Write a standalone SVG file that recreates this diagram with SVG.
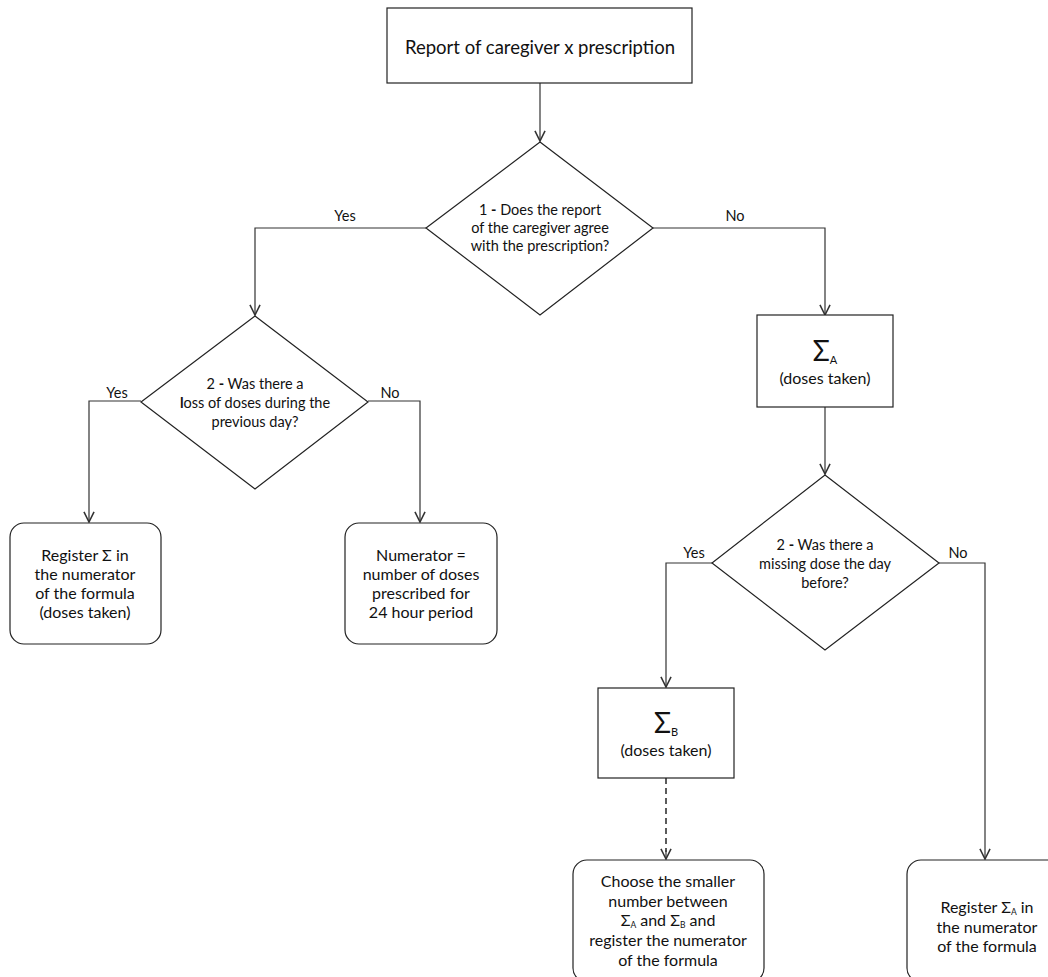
<svg xmlns="http://www.w3.org/2000/svg" width="1048" height="977" viewBox="0 0 1048 977">
<style>
.shape{fill:#fff;stroke:#222;stroke-width:1.2}
.conn{fill:none;stroke:#333;stroke-width:1.2}
.dash{stroke-dasharray:6 4;stroke-width:1.6}
text{font-family:Lato,"Noto Sans","Liberation Sans",sans-serif;fill:#111;text-anchor:middle}
.dt{font-size:14.5px}
.lb{font-size:14.5px}
.bt{font-size:16px}
.sig{font-size:28px}
.sub{font-size:11px}
.sm{font-size:8.5px}
</style>
<defs>
<marker id="arr" markerWidth="12" markerHeight="12" refX="9.5" refY="5" orient="auto" markerUnits="userSpaceOnUse" viewBox="0 0 10 10">
<path d="M1,0.8 L9.5,5 L1,9.2" fill="none" stroke="#333" stroke-width="1.3"/>
</marker>
</defs>
<rect width="1048" height="977" fill="#fff"/>
<g id="connectors">
<path class="conn" d="M540,83 V141" marker-end="url(#arr)"/>
<path class="conn" d="M426,228 H255 V315" marker-end="url(#arr)"/>
<path class="conn" d="M653,228 H825 V315" marker-end="url(#arr)"/>
<path class="conn" d="M141,401 H89 V522" marker-end="url(#arr)"/>
<path class="conn" d="M368,401 H420 V522" marker-end="url(#arr)"/>
<path class="conn" d="M825,407 V474" marker-end="url(#arr)"/>
<path class="conn" d="M712,563 H666 V687" marker-end="url(#arr)"/>
<path class="conn dash" d="M666,778 V852"/>
<path class="conn" d="M666,850 V859" marker-end="url(#arr)"/>
<path class="conn" d="M939,563 H985 V859" marker-end="url(#arr)"/>
<text class="lb" x="345" y="221">Yes</text>
<text class="lb" x="735" y="221">No</text>
<text class="lb" x="117" y="398">Yes</text>
<text class="lb" x="390" y="398">No</text>
<text class="lb" x="694" y="558">Yes</text>
<text class="lb" x="958" y="558">No</text>
</g>
<g id="start">
<rect class="shape" x="387" y="8" width="305" height="75"/>
<text x="540" y="54" style="font-size:18.5px">Report of caregiver x prescription</text>
</g>
<g id="decision1">
<polygon class="shape" points="540,142 653,228 540,315 426,228"/>
<text class="dt" x="540" y="215">1 <tspan font-weight="bold">-</tspan> Does the report</text>
<text class="dt" x="540" y="233">of the caregiver agree</text>
<text class="dt" x="540" y="251">with the prescription?</text>
</g>
<g id="decision2">
<polygon class="shape" points="255,316 368,402 255,489 141,402"/>
<text class="dt" x="255" y="389">2 <tspan font-weight="bold">-</tspan> Was there a</text>
<text class="dt" x="255" y="408"><tspan font-weight="bold">l</tspan>oss of doses during the</text>
<text class="dt" x="255" y="427">previous day?</text>
</g>
<g id="result1">
<rect class="shape" x="10" y="523" width="151" height="121" rx="14"/>
<text class="bt" x="85" y="561">Register Σ in</text>
<text class="bt" x="85" y="580">the numerator</text>
<text class="bt" x="85" y="599">of the formula</text>
<text class="bt" x="85" y="618">(doses taken)</text>
</g>
<g id="result2">
<rect class="shape" x="345" y="523" width="152" height="121" rx="14"/>
<text class="bt" x="421" y="561">Numerator =</text>
<text class="bt" x="421" y="580">number of doses</text>
<text class="bt" x="421" y="599">prescribed for</text>
<text class="bt" x="421" y="618">24 hour period</text>
</g>
<g id="sumA">
<rect class="shape" x="757" y="315" width="136" height="92"/>
<text x="825" y="361"><tspan class="sig">Σ</tspan><tspan class="sub" dy="3">A</tspan></text>
<text class="bt" x="825" y="384">(doses taken)</text>
</g>
<g id="decision3">
<polygon class="shape" points="825,475 939,563 825,650 712,563"/>
<text class="dt" x="825" y="550">2 <tspan font-weight="bold">-</tspan> Was there a</text>
<text class="dt" x="825" y="569">missing dose the day</text>
<text class="dt" x="825" y="588">before?</text>
</g>
<g id="sumB">
<rect class="shape" x="598" y="688" width="136" height="90"/>
<text x="666" y="733"><tspan class="sig">Σ</tspan><tspan class="sub" dy="3">B</tspan></text>
<text class="bt" x="666" y="756">(doses taken)</text>
</g>
<g id="result3">
<rect class="shape" x="573" y="860" width="191" height="122" rx="14"/>
<text class="bt" x="668" y="887">Choose the smaller</text>
<text class="bt" x="668" y="907">number between</text>
<text class="bt" x="668" y="926">Σ<tspan class="sm" dy="2">A</tspan><tspan dy="-2"> and Σ</tspan><tspan class="sm" dy="2">B</tspan><tspan dy="-2"> and</tspan></text>
<text class="bt" x="668" y="946">register the numerator</text>
<text class="bt" x="668" y="966">of the formula</text>
</g>
<g id="result4">
<rect class="shape" x="907" y="860" width="160" height="122" rx="14"/>
<text class="bt" x="987" y="913">Register Σ<tspan class="sm" dy="2">A</tspan><tspan dy="-2"> in</tspan></text>
<text class="bt" x="987" y="933">the numerator</text>
<text class="bt" x="987" y="952">of the formula</text>
</g>
</svg>
